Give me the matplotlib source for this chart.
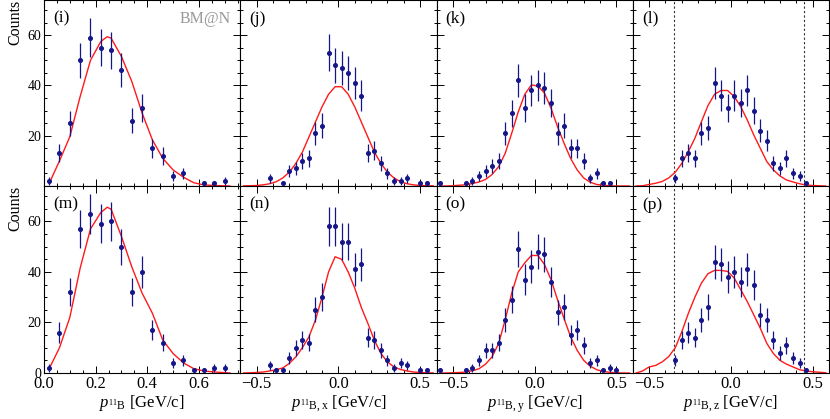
import numpy as np
import matplotlib
matplotlib.use('Agg')
import matplotlib.pyplot as plt
from matplotlib.ticker import MultipleLocator

plt.rcParams['font.family'] = ['Liberation Serif', 'DejaVu Serif']
plt.rcParams['mathtext.fontset'] = 'custom'
plt.rcParams['mathtext.rm'] = 'Liberation Serif'
plt.rcParams['mathtext.it'] = 'Liberation Serif:italic'

# bin centres
mom_bins = [0.02, 0.06, 0.10, 0.14, 0.18, 0.22, 0.26, 0.30, 0.34, 0.38,
            0.42, 0.46, 0.50, 0.54, 0.58, 0.62, 0.66, 0.70, 0.74]
sym_bins = [-0.58, -0.54, -0.50, -0.46, -0.42, -0.38, -0.34, -0.30, -0.26, -0.22,
            -0.18, -0.14, -0.10, -0.06, -0.02, 0.02, 0.06, 0.10, 0.14, 0.18,
            0.22, 0.26, 0.30, 0.34, 0.38, 0.42, 0.46, 0.50, 0.54, 0.58]

# measured counts
cnt_i = [2, 13, 25, 50, 59, 55, 54, 46, 26, 31, 15, 12, 4, 5, 0, 1, 1, 2, 0]
cnt_j = [0, 0, 0, 0, 3, 0, 1, 6, 7, 10, 11, 21, 24, 53, 48, 47, 45, 41, 36, 13,
         14, 9, 5, 2, 2, 3, 0, 1, 1, 0]
cnt_k = [1, 0, 0, 0, 1, 2, 4, 6, 8, 10, 21, 29, 42, 31, 38, 40, 39, 33, 21, 24,
         15, 15, 10, 3, 5, 1, 1, 0, 0, 0]
cnt_l = [0, 0, 0, 0, 0, 0, 3, 11, 13, 11, 21, 23, 41, 36, 31, 36, 33, 38, 30, 22,
         18, 9, 7, 11, 5, 4, 1, 0, 0, 0]
cnt_m = [2, 16, 32, 57, 63, 59, 60, 50, 32, 40, 17, 12, 4, 5, 1, 1, 2, 2, 0]
cnt_n = [0, 0, 0, 0, 3, 1, 1, 6, 10, 13, 12, 25, 30, 58, 58, 52, 52, 41, 43, 14,
         13, 9, 5, 2, 4, 3, 0, 1, 1, 0]
cnt_o = [1, 0, 0, 0, 1, 2, 5, 9, 9, 12, 21, 29, 49, 37, 42, 48, 47, 36, 24, 26,
         15, 17, 11, 4, 5, 1, 2, 1, 0, 0]
cnt_p = [0, 0, 0, 0, 0, 0, 5, 13, 16, 14, 21, 26, 44, 43, 38, 40, 36, 41, 35, 23,
         21, 13, 8, 11, 6, 4, 1, 0, 0, 0]

# model curves
mom_cx = [0.02, 0.06, 0.10, 0.14, 0.18, 0.22, 0.245, 0.26, 0.30, 0.34, 0.38,
          0.42, 0.46, 0.50, 0.54, 0.58, 0.62, 0.66, 0.72]
cur_i = [1.0, 10, 19.6, 35.6, 50, 57.5, 59.4, 58.8, 51.5, 41.6, 29, 18.3, 11,
         6.4, 3.5, 1.3, 0.4, 0.2, 0.0]
cur_m = [1.7, 10, 22, 41.5, 57, 63.5, 65.6, 64.8, 54, 42, 31.6, 23.6, 13, 7.7,
         4, 1.7, 0.8, 0.4, 0.0]
cur_j = [0.05, 0.1, 0.2, 0.45, 0.9, 1.7, 3.2, 5.5, 9, 13.5, 19.5, 25.5, 31.5,
         36.5, 39.5, 39.5, 36.5, 31.5, 25.5, 19.5, 13.5, 9, 5.5, 3.2, 1.7, 0.9,
         0.45, 0.2, 0.1, 0.05]
cur_k = [0, 0, 0.1, 0.3, 0.5, 1.0, 1.6, 2.6, 4.6, 7.7, 13, 21, 29.5, 36.5, 40.2,
         39.8, 37, 31, 23.6, 17, 11, 6.4, 3.2, 1.5, 0.6, 0.3, 0.1, 0, 0, 0]
cur_l = [0, 0.1, 0.6, 1.1, 1.8, 3.2, 5.5, 9, 13.7, 19, 25.6, 32, 36.5, 38, 38,
         35.6, 31.6, 26.3, 20.3, 15, 9.7, 6.4, 4, 2.4, 1.6, 0.9, 0.4, 0.2, 0.1, 0]
cur_n = [0, 0.1, 0.2, 0.4, 0.8, 1.3, 2, 3.8, 6.4, 10, 14.3, 21, 30, 40, 46, 45,
         40, 33.6, 26, 19.7, 13, 7.7, 4.4, 2.4, 1.4, 0.8, 0.4, 0.2, 0.1, 0]
cur_o = [0, 0, 0.1, 0.2, 0.4, 0.9, 1.7, 3.5, 6.4, 11.7, 21, 31.6, 40, 43.6, 46.5,
         46.5, 43, 37, 29, 21.6, 14.3, 9, 5, 2.7, 1.3, 0.6, 0.3, 0.1, 0, 0]
cur_p = [0, 0.8, 2.4, 3, 4.4, 6.5, 10, 16.3, 23.6, 30, 35.6, 39.3, 40.6, 40.6,
         40.2, 37.6, 33, 28.3, 23, 17.7, 11.7, 7.7, 5, 3.5, 2.4, 1.3, 0.8, 0.5,
         0.3, 0.1]

pz_cuts = [-0.35, 0.45]
letters = ['(i)', '(j)', '(k)', '(l)', '(m)', '(n)', '(o)', '(p)']
xlabels = [r'$p_{{}^{11}\mathrm{B}}$ [GeV/c]', r'$p_{{}^{11}\mathrm{B,x}}$ [GeV/c]',
           r'$p_{{}^{11}\mathrm{B,y}}$ [GeV/c]', r'$p_{{}^{11}\mathrm{B,z}}$ [GeV/c]']

panels = [
    (mom_bins, cnt_i, mom_cx, cur_i),
    (sym_bins, cnt_j, sym_bins, cur_j),
    (sym_bins, cnt_k, sym_bins, cur_k),
    (sym_bins, cnt_l, sym_bins, cur_l),
    (mom_bins, cnt_m, mom_cx, cur_m),
    (sym_bins, cnt_n, sym_bins, cur_n),
    (sym_bins, cnt_o, sym_bins, cur_o),
    (sym_bins, cnt_p, sym_bins, cur_p),
]

W, H = 830, 419
fig = plt.figure(figsize=(W / 100, H / 100), dpi=100)

left, right = 44, 829
pw = (right - left) / 4
row_tops = [0, 186]
row_h = [186, 187]

navy = '#15158a'
for n, (bx, cnt, cx, cy) in enumerate(panels):
    r, c = divmod(n, 4)
    x0 = left + c * pw
    y0 = row_tops[r] + row_h[r]
    ax = fig.add_axes([x0 / W, 1 - y0 / H, pw / W, row_h[r] / H])

    bx = np.array(bx)
    cnt = np.array(cnt, dtype=float)
    keep = cnt > 0
    ax.plot(cx, cy, color='#ff1a1a', lw=1.0, zorder=2)
    ax.errorbar(bx[keep], cnt[keep], yerr=np.sqrt(cnt[keep]), fmt='o', ms=2.6,
                color=navy, ecolor=navy, elinewidth=0.9, capsize=0, zorder=3)

    if c == 0:
        ax.set_xlim(0, 0.76)
        ax.xaxis.set_major_locator(MultipleLocator(0.2))
        ax.xaxis.set_minor_locator(MultipleLocator(0.05))
    else:
        ax.set_xlim(-0.6, 0.6)
        ax.xaxis.set_major_locator(MultipleLocator(0.5))
        ax.xaxis.set_minor_locator(MultipleLocator(0.1))
    ax.set_ylim(0, 74)
    ax.yaxis.set_major_locator(MultipleLocator(20))
    ax.yaxis.set_minor_locator(MultipleLocator(5))

    if c == 3:
        for xc in pz_cuts:
            ax.axvline(xc, color='#333333', lw=0.8, ls=(0, (2, 2)), zorder=1)

    ax.tick_params(which='both', direction='in', top=True, right=True,
                   width=0.7, colors='black')
    ax.tick_params(which='major', length=5)
    ax.tick_params(which='minor', length=2.5)
    ax.tick_params(axis='y', labelsize=10, pad=2)
    ax.tick_params(axis='x', labelsize=12, pad=2)
    for s in ax.spines.values():
        s.set_linewidth(0.8)

    if c == 0:
        if r == 0:
            ax.set_yticks([20, 40, 60])
        else:
            ax.set_yticks([0, 20, 40, 60])
        ax.set_ylabel('Counts', loc='top', fontsize=11.5, labelpad=3)
    else:
        ax.set_yticklabels([])
    if r == 0:
        ax.set_xticklabels([])
    else:
        ax.set_xlabel(xlabels[c], fontsize=12, labelpad=1)

    ax.text(0.046, 0.9, letters[n], transform=ax.transAxes, fontsize=12.5,
            ha='left', va='center')
    if n == 0:
        ax.text(0.95, 0.9, 'BM@N', transform=ax.transAxes, fontsize=11.5,
                color='#9a9a9a', ha='right', va='center')

fig.savefig('out.png', dpi=100)
